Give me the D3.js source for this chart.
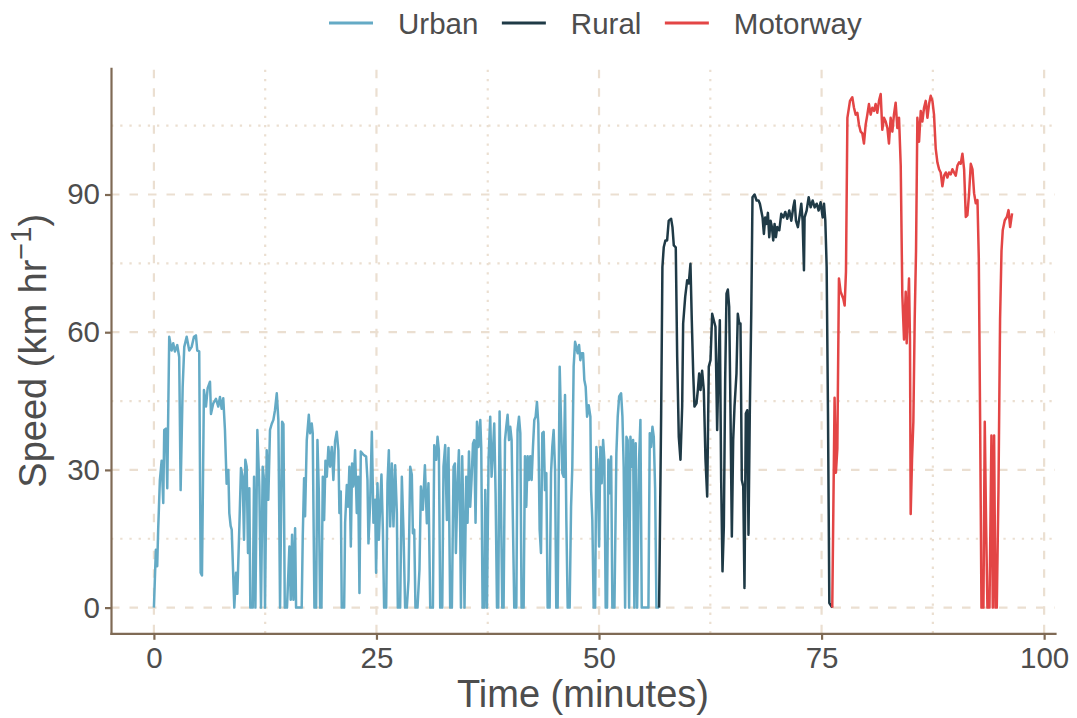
<!DOCTYPE html>
<html>
<head>
<meta charset="utf-8">
<script src="https://cdn.jsdelivr.net/npm/d3@7"></script>
<style>
  html, body { margin: 0; padding: 0; background: #ffffff; }
  svg { display: block; font-family: "Liberation Sans", Arial, Helvetica, sans-serif; }
</style>
</head>
<body>
<svg id="chart" width="1077" height="718"></svg>
<script>
// Speed trace of a drive, split into its urban, rural and motorway parts.
// Each point is [time in minutes, speed in km/h].
const urban = [
  [0,0],[0.22,12.6],[0.37,9],[0.48,17],[0.67,27.8],[0.87,32],[1.05,22.8],[1.16,38.7],[1.35,39],[1.5,26],
  [1.72,59],[1.99,56],[2.17,57.6],[2.36,55.8],[2.62,57.2],[2.84,54.6],[3.0,25.6],[3.23,48],[3.41,56.8],[3.68,59],
  [3.97,56],[4.24,56.8],[4.5,59],[4.72,59.3],[4.87,56],[5.09,55.8],[5.25,7.6],[5.4,7],[5.62,47.4],[5.85,43.8],
  [6.04,47.8],[6.3,49.2],[6.41,42.2],[6.67,44.5],[6.97,45.5],[7.23,43.8],[7.42,45.9],[7.61,43.3],[7.79,45.6],[7.98,38.7],
  [8.17,27],[8.36,30],[8.47,20.6],[8.62,17.8],[8.74,17],[9.03,0],[9.22,7.6],[9.37,3],[9.6,17.8],[9.78,30.4],
  [9.97,28.5],[10.12,14.8],[10.27,32.2],[10.42,30.7],[10.57,11.9],[10.72,26],[10.83,0],[11.1,0],[11.25,28.5],[11.4,0],
  [11.62,38.7],[11.84,26.4],[12.03,0],[12.22,30.7],[12.37,27.8],[12.48,0],[12.67,34.3],[12.85,23.5],[13.04,38.7],[13.23,40],
  [13.42,40.9],[13.6,43],[13.8,46.7],[13.98,40.9],[14.17,0],[14.4,40.5],[14.55,40],[14.7,0],[14.95,0],[15.22,13.3],
  [15.37,1.7],[15.52,15.9],[15.67,1.7],[15.86,17.3],[15.97,0],[16.6,0],[16.72,15.5],[16.87,28.2],[16.98,19.9],[17.17,36.5],
  [17.4,42],[17.54,38],[17.73,40.1],[17.84,38],[18.03,0],[18.22,0],[18.37,36.5],[18.52,25.6],[18.67,0],[18.82,0],
  [18.97,28.5],[19.12,19.1],[19.27,32],[19.42,28.5],[19.6,35],[19.79,30.7],[19.98,35],[20.16,27.8],[20.35,36.2],[20.54,38.3],
  [20.72,34.3],[20.84,20.6],[20.99,25.3],[21.1,0],[21.37,0],[21.48,18.5],[21.67,26.7],[21.81,22],[21.96,30.7],[22.12,13.3],
  [22.26,31.4],[22.41,26.4],[22.6,34.3],[22.79,20.6],[22.94,28.5],[23.09,3.2],[23.24,34],[23.54,33.3],[23.84,32.9],[23.99,27.8],
  [24.1,14],[24.29,22.8],[24.48,38.3],[24.66,18.5],[24.85,23.5],[24.96,7.6],[25.11,27.1],[25.27,14.8],[25.41,22],[25.56,29],
  [25.72,17],[25.86,0],[26.09,0],[26.24,27.1],[26.39,34.3],[26.54,17.7],[26.73,31.4],[26.91,17.7],[27.1,31],[27.29,20.6],
  [27.4,0],[27.66,0],[27.85,28.5],[28.03,17],[28.22,0],[28.41,0],[28.6,6],[28.79,30.7],[28.97,29],[29.09,16.2],
  [29.24,17],[29.38,0],[29.61,0],[29.83,8.3],[29.99,26.4],[30.21,21.3],[30.44,31],[30.66,18.4],[30.84,27.1],[31.04,0],
  [31.34,0],[31.49,35.4],[31.71,32.2],[31.86,37.2],[32.01,34.3],[32.16,0],[32.39,0],[32.53,30.7],[32.72,35.4],[32.91,19.1],
  [33.09,34.8],[33.28,0],[33.47,0],[33.66,30.7],[33.81,31.4],[33.92,11.9],[34.11,27.1],[34.26,34.3],[34.41,16.2],[34.49,0],
  [34.63,33],[34.78,17.7],[34.89,0],[35.08,28.5],[35.23,18.5],[35.39,34],[35.53,22],[35.68,27.8],[35.84,35.7],[35.98,36.5],
  [36.13,18.5],[36.29,40.5],[36.47,35],[36.66,40.9],[36.77,35],[36.92,0],[37.11,0],[37.22,25.6],[37.41,0],[37.59,32.2],
  [37.78,41.6],[37.93,28.5],[38.09,34.3],[38.23,40.1],[38.38,24.9],[38.54,0],[38.68,0],[38.83,42.7],[38.99,22.8],[39.13,0],
  [39.28,0],[39.44,36.5],[39.58,39.4],[39.73,42],[39.89,36.5],[40.03,39.4],[40.18,36.5],[40.34,17],[40.48,0],[40.71,0],
  [40.85,38.7],[41.01,41.6],[41.16,38],[41.3,0],[41.53,0],[41.68,33],[41.83,22],[41.98,33],[42.13,27.8],[42.28,33],
  [42.43,27.8],[42.58,35],[42.73,40.9],[42.88,41.6],[43.03,44.8],[43.18,40.1],[43.33,17],[43.48,11.9],[43.63,38],[43.78,38.3],
  [43.93,25.6],[44.08,29.3],[44.23,0],[44.45,0],[44.61,29.3],[44.75,35],[44.9,38.7],[45.06,30],[45.2,0],[45.35,0],
  [45.58,52.5],[45.73,40.9],[45.88,29.3],[46.03,28.5],[46.18,46.3],[46.33,19],[46.48,0],[46.7,0],[46.86,22],[47.0,30.7],
  [47.15,52.5],[47.31,57.9],[47.45,56.8],[47.6,55.4],[47.76,57.2],[47.9,53.9],[48.05,55.4],[48.21,55.4],[48.35,49.6],[48.5,48.1],
  [48.66,41.6],[48.84,44.1],[49.03,41.6],[49.11,25.6],[49.25,19],[49.4,0],[49.56,0],[49.7,35],[49.85,30],[50.01,13.3],
  [50.15,35],[50.3,27.1],[50.46,36.5],[50.6,32.2],[50.75,0],[50.9,0],[51.05,32.2],[51.2,24.9],[51.36,32.9],[51.5,0],
  [51.73,0],[51.95,33.6],[52.1,41.6],[52.26,46],[52.48,46.7],[52.63,41.6],[52.77,30.7],[52.93,0],[53.08,37.2],[53.22,36.5],
  [53.38,0],[53.53,37.2],[53.67,30.7],[53.83,36.5],[53.97,0],[54.12,35.8],[54.28,0],[54.5,32.2],[54.65,40.9],[54.8,0],
  [55.55,0],[55.7,38],[55.85,35],[56.0,39.4],[56.15,37.2],[56.3,26],[56.45,0],[56.75,0]
];

const rural = [
  [56.75,0],[56.98,42.3],[57.12,74.2],[57.27,78.5],[57.46,80],[57.65,80],[57.83,84.3],[58.1,84.7],[58.25,82.9],[58.4,78.9],
  [58.62,78.5],[58.78,54.6],[58.96,37.2],[59.15,32.2],[59.34,43.8],[59.45,61.9],[59.68,67.7],[59.9,71.3],[60.08,70.6],[60.27,74.9],
  [60.42,62.6],[60.58,51],[60.72,43.8],[60.95,44.5],[61.1,47.4],[61.25,51],[61.4,47.4],[61.58,51.6],[61.77,47.4],[61.96,32.2],
  [62.15,24.2],[62.33,52.5],[62.52,53.9],[62.71,64],[62.89,62.6],[63.08,61.2],[63.27,38.7],[63.42,52.5],[63.57,62.6],[63.72,27.8],
  [63.87,7.9],[64.02,17.7],[64.17,49.6],[64.32,68.4],[64.47,69.3],[64.62,65.5],[64.77,42.3],[64.92,15.5],[65.07,36.5],[65.22,43.8],
  [65.44,51],[65.59,64],[65.75,61.9],[65.89,61.9],[66.04,27.8],[66.2,26.4],[66.34,4.3],[66.49,42.3],[66.65,43],[66.79,15.9],
  [66.94,43],[67.1,64],[67.24,89.4],[67.47,90],[67.7,88.7],[67.92,88.7],[68.07,88],[68.22,86.5],[68.37,85],[68.52,81.4],
  [68.67,85],[68.82,83.6],[68.97,86],[69.12,80.7],[69.27,84.3],[69.42,82.9],[69.57,80],[69.72,83.6],[69.87,80.7],[70.02,82.9],
  [70.25,82.2],[70.47,85.8],[70.7,85],[70.92,86.2],[71.15,84.7],[71.37,86.5],[71.6,84.3],[71.82,87.2],[71.97,88.7],[72.12,84.3],
  [72.34,82.9],[72.57,85.8],[72.72,88],[72.87,84.3],[73.02,73.5],[73.09,85],[73.32,86.5],[73.55,89.4],[73.77,87.2],[74.0,88.7],
  [74.22,87.2],[74.45,88],[74.67,86.5],[74.89,88.3],[75.12,85],[75.27,88],[75.42,84.3],[75.57,74.2],[75.72,42.3],[75.87,1],
  [76.2,0]
];

const motorway = [
  [76.2,0],[76.46,45.7],[76.61,29.4],[76.77,34.6],[76.95,71.7],[77.14,68.8],[77.44,67.3],[77.59,65.8],[77.74,73.2],[77.9,106.7],
  [78.19,110.4],[78.45,111.2],[78.64,108.9],[78.83,107.4],[79.02,107.8],[79.2,105.2],[79.39,103.7],[79.58,103.3],[79.76,101.1],[79.95,105.2],
  [80.14,107.4],[80.32,109.7],[80.51,107.4],[80.7,108.9],[80.89,108.2],[81.07,109.7],[81.26,107.8],[81.45,110.4],[81.64,111.9],[81.82,104.1],
  [82.01,106.7],[82.2,105.9],[82.39,104.5],[82.57,101.1],[82.76,106.7],[82.95,103.7],[83.13,107.4],[83.32,110],[83.51,104.5],[83.7,106.7],
  [83.89,96.3],[84.07,68],[84.26,58.4],[84.45,68.8],[84.56,57.6],[84.71,65.8],[84.82,71.7],[84.93,58.4],[85.01,20.4],[85.16,32.3],
  [85.31,40.5],[85.46,62.8],[85.61,77.7],[85.76,106.7],[85.95,101.5],[86.14,108.2],[86.32,105.9],[86.51,108.9],[86.7,110.4],[86.89,106.7],
  [87.07,109.7],[87.26,111.5],[87.45,110.4],[87.63,107.4],[87.82,100],[88.01,97],[88.2,95.5],[88.38,94.8],[88.57,91.8],[88.76,94.1],
  [88.95,94.8],[89.13,93.7],[89.32,94.8],[89.51,94.4],[89.7,95.5],[89.88,94.8],[90.07,94.1],[90.26,96.3],[90.45,97],[90.63,96.7],
  [90.82,98.9],[91.01,95.5],[91.2,85.1],[91.38,85.5],[91.57,90.3],[91.76,96.7],[91.95,95.5],[92.13,90.3],[92.32,88.1],[92.51,88.8],
  [92.66,76.2],[92.81,40.5],[92.96,0],[93.18,0],[93.33,40.5],[93.48,18.2],[93.63,0],[93.86,0],[94.08,37.5],[94.23,0],
  [94.38,37.5],[94.53,0],[94.68,0],[94.87,25.7],[95.05,62.8],[95.21,77.7],[95.35,82.2],[95.58,84.4],[95.81,85.1],[96.0,86.6],
  [96.18,82.9],[96.4,85.9]
];

const segmentNames = ["Urban", "Rural", "Motorway"];
const xMajorTicks = [0, 25, 50, 75, 100];
const xMinorTicks = [12.5, 37.5, 62.5, 87.5];
const yMajorTicks = [0, 30, 60, 90];
const yMinorTicks = [15, 45, 75, 105];

const segmentData = { Urban: urban, Rural: rural, Motorway: motorway };
const segmentColor = d3.scaleOrdinal()
  .domain(segmentNames)
  .range(["#64aac5", "#1f3a46", "#e34545"]);

const panel = { left: 111, right: 1055, top: 68.3, bottom: 633.3 };

const all = segmentNames.flatMap(n => segmentData[n]);
const xExt = d3.extent(all, d => d[0]);
const yExt = [0, d3.max(all, d => d[1])];
const pad = (e) => { const s = e[1] - e[0]; return [e[0] - 0.05 * s, e[1] + 0.05 * s]; };

const x = d3.scaleLinear().domain(pad(xExt)).range([panel.left, panel.right]);
const y = d3.scaleLinear().domain(pad(yExt)).range([panel.bottom, panel.top]);

const svg = d3.select("#chart");
const gridColor = "#ebdfd1";
const axisColor = "#7f6a55";
const textColor = "#4d4d4d";

// grid: dotted minor lines first, dashed major lines on top
const grid = svg.append("g");
grid.append("g").selectAll("line").data(xMinorTicks).join("line")
  .attr("x1", d => x(d)).attr("x2", d => x(d))
  .attr("y1", panel.bottom).attr("y2", panel.top)
  .attr("stroke", gridColor).attr("stroke-width", 2.2).attr("stroke-dasharray", "2.3,6.9");
grid.append("g").selectAll("line").data(yMinorTicks).join("line")
  .attr("x1", panel.left).attr("x2", panel.right)
  .attr("y1", d => y(d)).attr("y2", d => y(d))
  .attr("stroke", gridColor).attr("stroke-width", 2.2).attr("stroke-dasharray", "2.3,6.9");
grid.append("g").selectAll("line").data(xMajorTicks).join("line")
  .attr("x1", d => x(d)).attr("x2", d => x(d))
  .attr("y1", panel.bottom).attr("y2", panel.top)
  .attr("stroke", gridColor).attr("stroke-width", 2.2).attr("stroke-dasharray", "8.5,10");
grid.append("g").selectAll("line").data(yMajorTicks).join("line")
  .attr("x1", panel.left).attr("x2", panel.right)
  .attr("y1", d => y(d)).attr("y2", d => y(d))
  .attr("stroke", gridColor).attr("stroke-width", 2.2).attr("stroke-dasharray", "8.5,10");

// speed traces
const line = d3.line().x(d => x(d[0])).y(d => y(d[1]));
svg.append("g").selectAll("path").data(segmentNames).join("path")
  .attr("d", n => line(segmentData[n]))
  .attr("fill", "none")
  .attr("stroke", n => segmentColor(n))
  .attr("stroke-width", 2.5)
  .attr("stroke-linejoin", "round")
  .attr("stroke-linecap", "butt");

// axes
const xAxis = svg.append("g").attr("transform", `translate(0,${panel.bottom})`)
  .call(d3.axisBottom(x).tickValues(xMajorTicks).tickSizeInner(6.5).tickSizeOuter(0).tickPadding(7));
const yAxis = svg.append("g").attr("transform", `translate(${panel.left},0)`)
  .call(d3.axisLeft(y).tickValues(yMajorTicks).tickSizeInner(6).tickSizeOuter(0).tickPadding(5));
[xAxis, yAxis].forEach(g => {
  g.select(".domain").attr("stroke", axisColor).attr("stroke-width", 2.2).attr("stroke-linecap", "square");
  g.selectAll(".tick line").attr("stroke", axisColor).attr("stroke-width", 2.2);
  g.selectAll(".tick text").attr("fill", textColor)
    .style("font-size", "29.5px").style("font-family", "'Liberation Sans', Arial, sans-serif");
});

// axis titles
svg.append("text")
  .attr("x", (panel.left + panel.right) / 2).attr("y", 707)
  .attr("text-anchor", "middle").attr("fill", textColor)
  .style("font-size", "38px")
  .text("Time (minutes)");

const yTitle = svg.append("text")
  .attr("transform", `translate(46,${(panel.top + panel.bottom) / 2}) rotate(-90)`)
  .attr("text-anchor", "middle").attr("fill", textColor)
  .style("font-size", "38px");
yTitle.append("tspan").text("Speed (km hr");
yTitle.append("tspan").attr("dy", -15).style("font-size", "29px").text("\u22121");
yTitle.append("tspan").attr("dy", 15).text(")");

// legend across the top
const legend = svg.append("g");
let lx = 329;
const ly = 23;
segmentNames.forEach(n => {
  legend.append("line")
    .attr("x1", lx).attr("x2", lx + 44).attr("y1", ly).attr("y2", ly)
    .attr("stroke", segmentColor(n)).attr("stroke-width", 3);
  const t = legend.append("text")
    .attr("x", lx + 69).attr("y", ly + 11)
    .attr("fill", textColor).style("font-size", "29.5px")
    .text(n);
  lx = lx + 69 + t.node().getComputedTextLength() + 23.5;
});
</script>
</body>
</html>
